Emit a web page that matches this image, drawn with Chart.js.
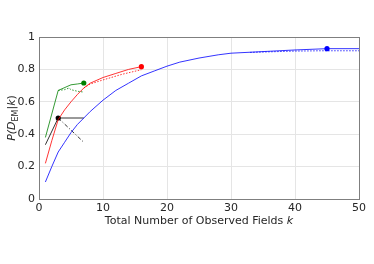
<!DOCTYPE html>
<html>
<head>
<meta charset="utf-8">
<script src="https://cdn.jsdelivr.net/npm/chart.js@4.4.0/dist/chart.umd.min.js"></script>
<style>
  html, body { margin: 0; padding: 0; background: #fff; }
  #wrap { width: 374px; height: 264px; }
</style>
</head>
<body>
<div id="wrap"><canvas id="c" width="374" height="264"></canvas></div>
<script>
// axis ticks
const xTicks = [0, 10, 20, 30, 40, 50];
const yTicks = ['0', '0.2', '0.4', '0.6', '0.8', '1'];

// blue: solid curve, flat tail, dotted estimate
const blueK = [1, 2, 3, 4, 5, 6, 7, 8, 10, 12, 14, 16, 18, 20, 22, 25, 28, 30, 35, 40, 45];
const blueP = [0.105, 0.2, 0.29, 0.35, 0.41, 0.46, 0.5, 0.54, 0.61, 0.67, 0.715, 0.76, 0.79, 0.82, 0.845, 0.87, 0.89, 0.9, 0.91, 0.92, 0.928];
const blueTailK = [45, 50];
const blueTailP = [0.928, 0.928];
const blueDotK = [33, 40, 44, 50];
const blueDotP = [0.905, 0.913, 0.915, 0.915];

// red
const redK = [1, 2, 3, 4, 5, 6, 7, 8, 10, 12, 14, 16];
const redP = [0.22, 0.36, 0.49, 0.55, 0.6, 0.645, 0.685, 0.715, 0.75, 0.775, 0.8, 0.817];
const redDotK = [7, 8, 10, 13, 16];
const redDotP = [0.685, 0.71, 0.735, 0.77, 0.798];

// green
const greenK = [1, 3, 5, 6, 7];
const greenP = [0.38, 0.67, 0.705, 0.71, 0.716];
const greenDotK = [3, 4, 4.7, 5, 6, 7];
const greenDotP = [0.67, 0.675, 0.685, 0.675, 0.665, 0.66];

// black
const blackK = [1, 3];
const blackP = [0.335, 0.5];
const blackFlatK = [3, 7];
const blackFlatP = [0.5, 0.5];
const blackDashK = [3, 7];
const blackDashP = [0.5, 0.35];

// end markers
const markK = [3, 7, 16, 45];
const markP = [0.5, 0.716, 0.817, 0.928];
const markColors = ['#000000', '#008000', '#ff0000', '#0000ff'];

const pts = (ks, ps) => ks.map((k, i) => ({ x: k, y: ps[i] }));

const line = (ks, ps, color, dash) => ({
  data: pts(ks, ps),
  borderColor: color,
  borderWidth: 0.8,
  borderDash: dash || [],
  pointRadius: 0,
  fill: false,
  tension: 0
});

const datasets = [
  line(blueK, blueP, '#0000ff'),
  line(blueTailK, blueTailP, '#0000ff'),
  line(blueDotK, blueDotP, '#0000ff', [1.5, 1.5]),
  line(redK, redP, '#ff0000'),
  line(redDotK, redDotP, '#ff0000', [1.5, 1.5]),
  line(greenK, greenP, '#008000'),
  line(greenDotK, greenDotP, '#008000', [1.5, 1.5]),
  line(blackK, blackP, '#000000'),
  line(blackFlatK, blackFlatP, '#000000'),
  line(blackDashK, blackDashP, '#000000', [4, 2, 1, 2]),
  {
    data: pts(markK, markP),
    showLine: false,
    pointRadius: 2.6,
    pointBackgroundColor: markColors,
    pointBorderColor: markColors,
    pointBorderWidth: 0
  }
];

// box around plot + axis titles with italic/subscript parts
const decor = {
  id: 'decor',
  afterDraw(chart) {
    const { ctx, chartArea: a } = chart;
    ctx.save();
    ctx.strokeStyle = '#7f7f7f';
    ctx.lineWidth = 1;
    ctx.strokeRect(a.left + 0.5, a.top + 0.5, a.right - a.left, a.bottom - a.top);

    ctx.fillStyle = '#262626';
    ctx.textBaseline = 'alphabetic';
    // x title
    const f = '11px "DejaVu Sans"';
    const fi = 'italic 11px "DejaVu Sans"';
    const p1 = 'Total Number of Observed Fields ';
    ctx.font = f;
    const w1 = ctx.measureText(p1).width;
    ctx.font = fi;
    const w2 = ctx.measureText('k').width;
    let x0 = (a.left + a.right) / 2 - (w1 + w2) / 2;
    ctx.font = f;
    ctx.fillText(p1, x0, 224);
    ctx.font = fi;
    ctx.fillText('k', x0 + w1, 224);

    // y title, rotated
    const parts = [
      ['P(D', fi, 0],
      ['EM', '8px "DejaVu Sans"', 3],
      ['|', f, 0],
      ['k', fi, 0],
      [')', f, 0]
    ];
    let total = 0;
    parts.forEach(p => { ctx.font = p[1]; total += ctx.measureText(p[0]).width; });
    ctx.translate(15, (a.top + a.bottom) / 2);
    ctx.rotate(-Math.PI / 2);
    let x = -total / 2;
    parts.forEach(p => {
      ctx.font = p[1];
      ctx.fillText(p[0], x, p[2]);
      x += ctx.measureText(p[0]).width;
    });
    ctx.restore();
  }
};

new Chart(document.getElementById('c'), {
  type: 'line',
  data: { datasets },
  options: {
    responsive: false,
    animation: false,
    layout: { padding: { top: 37, right: 15, left: 0, bottom: 0 } },
    plugins: { legend: { display: false }, tooltip: { enabled: false } },
    scales: {
      x: {
        type: 'linear',
        min: 0, max: 50,
        afterFit(s) { s.height = 65; },
        afterBuildTicks(s) { s.ticks = xTicks.map(v => ({ value: v })); },
        grid: { color: '#e5e5e5', drawTicks: false },
        border: { display: false },
        ticks: { color: '#262626', padding: 3, font: { family: 'DejaVu Sans', size: 11 } }
      },
      y: {
        type: 'linear',
        min: 0, max: 1,
        afterFit(s) { s.width = 39; },
        afterBuildTicks(s) { s.ticks = yTicks.map(v => ({ value: parseFloat(v) })); },
        grid: { color: '#e5e5e5', drawTicks: false },
        border: { display: false },
        ticks: {
          color: '#262626', padding: 4,
          font: { family: 'DejaVu Sans', size: 11 },
          callback: (v, i) => yTicks[i]
        }
      }
    }
  },
  plugins: [decor]
});
</script>
</body>
</html>
